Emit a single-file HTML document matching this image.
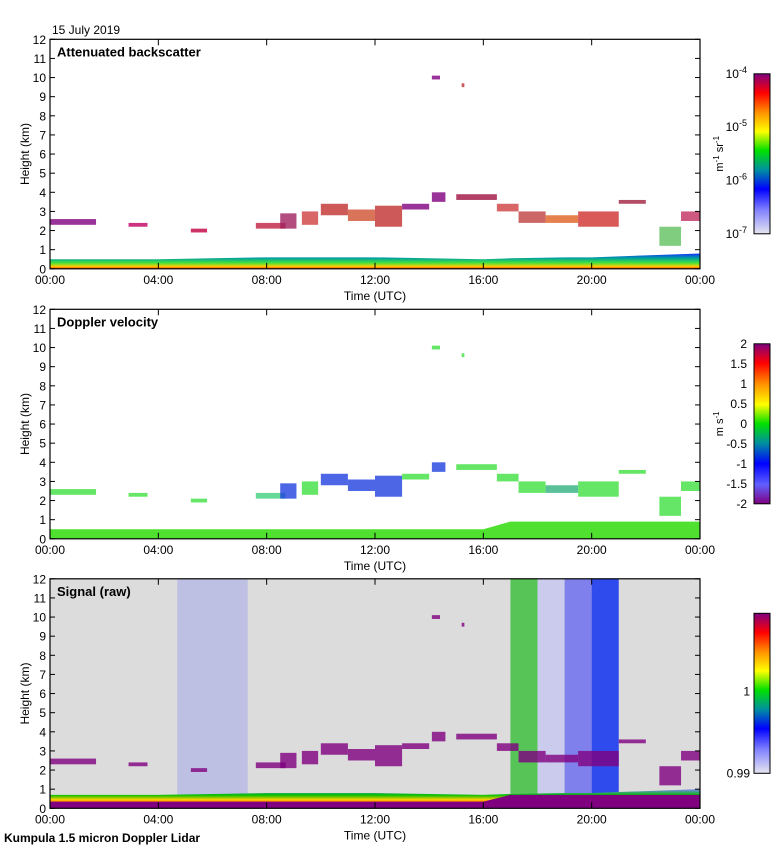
<!DOCTYPE html>
<html><head><meta charset="utf-8">
<style>
body{margin:0;background:#fff;}
svg{display:block;font-family:"Liberation Sans",sans-serif;}
</style></head>
<body>
<svg id="fig" width="780" height="850" viewBox="0 0 780 850" xmlns="http://www.w3.org/2000/svg">
<defs>
<linearGradient id="cb1" x1="0" y1="1" x2="0" y2="0">
<stop offset="0" stop-color="#e6e6f0"/><stop offset="0.15" stop-color="#8080ff"/><stop offset="0.28" stop-color="#0000ff"/><stop offset="0.4" stop-color="#0090a0"/><stop offset="0.52" stop-color="#00e000"/><stop offset="0.64" stop-color="#ffff00"/><stop offset="0.76" stop-color="#ff9000"/><stop offset="0.88" stop-color="#ff0000"/><stop offset="1" stop-color="#800080"/>
</linearGradient>
<linearGradient id="cb2" x1="0" y1="1" x2="0" y2="0">
<stop offset="0" stop-color="#800080"/><stop offset="0.12" stop-color="#6060ff"/><stop offset="0.25" stop-color="#0000ff"/><stop offset="0.38" stop-color="#0090a0"/><stop offset="0.5" stop-color="#00e000"/><stop offset="0.62" stop-color="#ffff00"/><stop offset="0.75" stop-color="#ff9000"/><stop offset="0.88" stop-color="#ff0000"/><stop offset="1" stop-color="#800080"/>
</linearGradient>
<linearGradient id="pbl1" x1="0" y1="0" x2="0" y2="1">
<stop offset="0" stop-color="#1030ff"/><stop offset="0.3" stop-color="#00a0a0"/><stop offset="0.6" stop-color="#40e040"/><stop offset="0.85" stop-color="#ffd000"/><stop offset="1" stop-color="#ff3000"/>
</linearGradient>
<linearGradient id="pbl3" x1="0" y1="0" x2="0" y2="1">
<stop offset="0" stop-color="#8080ff"/><stop offset="0.3" stop-color="#00c000"/><stop offset="0.55" stop-color="#ffd000"/><stop offset="0.75" stop-color="#ff4000"/><stop offset="0.9" stop-color="#800080"/>
</linearGradient>
</defs>
<text x="52" y="34" font-size="12">15 July 2019</text>
<text x="4" y="842" font-size="12" font-weight="bold">Kumpula 1.5 micron Doppler Lidar</text>
<g id="panels"></g>
</svg>
<script>
// time in hours, heights in km
const cloudStart=[0.0,2.9,5.2,7.6,8.5,9.3,10.0,11.0,12.0,13.0,14.1,15.0,16.5,17.3,18.3,19.5,21.0,22.5,23.3,14.1,15.2];
const cloudEnd  =[1.7,3.6,5.8,8.7,9.1,9.9,11.0,12.0,13.0,14.0,14.6,16.5,17.3,18.3,19.5,21.0,22.0,23.3,24.0,14.4,15.3];
const cloudBase =[2.3,2.2,1.9,2.1,2.1,2.3,2.8,2.5,2.2,3.1,3.5,3.6,3.0,2.4,2.4,2.2,3.4,1.2,2.5,9.9,9.5];
const cloudTop  =[2.6,2.4,2.1,2.4,2.9,3.0,3.4,3.1,3.3,3.4,4.0,3.9,3.4,3.0,2.8,3.0,3.6,2.2,3.0,10.1,9.7];
const pblTop=[0.5,0.5,0.55,0.6,0.6,0.6,0.55,0.5,0.55,0.6,0.6,0.7,0.8];
const pblTime=[0,4,6,8,10,12,14,16,17,19,20,22,24];
const noiseStart=[4.7,17.0,18.0,19.0,20.0];
const noiseEnd  =[7.3,18.0,19.0,20.0,21.0];
const noiseColor=["#3040ff","#40c040","#c8c8f0","#7070f0","#1030f0"];
const cloudColor1=["#800080","#c00060","#c00040","#c02040","#a02060","#d04040","#c03030","#d05030","#c03030","#800080","#800080","#a01040","#d04040","#c04040","#e06020","#d03030","#a02040","#60c060","#c03060","#800080","#c03030"];
const cloudColor2=["#40e040","#40e040","#40e040","#40d080","#2040e0","#40e040","#2040e0","#2040e0","#2040e0","#40e040","#2040e0","#40e040","#40e040","#40e040","#30b080","#40e040","#40e040","#40e040","#40e040","#40e040","#40e040"];
const cbTicks2=["2","1.5","1","0.5","0","-0.5","-1","-1.5","-2"];
const xTickLabels=["00:00","04:00","08:00","12:00","16:00","20:00","00:00"];

const NS="http://www.w3.org/2000/svg";
const X0=50,X1=700,W=X1-X0,PH=229.5;
const tops=[39.3,309.3,578.8];
const xs=t=>X0+t/24*W;
function mk(tag,attrs,parent){const e=document.createElementNS(NS,tag);for(const k in attrs)e.setAttribute(k,attrs[k]);parent.appendChild(e);return e;}
const root=document.getElementById('panels');
const titles=["Attenuated backscatter","Doppler velocity","Signal (raw)"];
tops.forEach((top,p)=>{
  const ys=h=>top+PH-h/12*PH;
  const g=mk('g',{},root);
  
  
  const clip='clip'+p;
  const cp=mk('clipPath',{id:clip},g);mk('rect',{x:X0,y:top,width:W,height:PH},cp);
  const plot=mk('g',{'clip-path':'url(#'+clip+')'},g);
  if(p===2){
    const bg=mk('rect',{x:X0,y:top,width:W,height:PH,fill:'#dcdcdc'},plot);
    
    
    noiseStart.forEach((s,i)=>{
      const r=mk('rect',{x:xs(s),y:top,width:xs(noiseEnd[i])-xs(s),height:PH,fill:noiseColor[i],opacity:i===0?0.18:0.85},plot);
      
      
    });
  }
  // boundary layer
  const pt=i=>p===1?(pblTime[i]>=17?0.9:0.5):p===2?pblTop[i]+0.2:pblTop[i];
  let d='M'+xs(pblTime[0])+','+ys(0);
  pblTime.forEach((t,i)=>{d+=' L'+xs(t)+','+ys(pt(i));});
  d+=' L'+xs(24)+','+ys(0)+'Z';
  const pb=mk('path',{d:d,fill:p===0?'url(#pbl1)':p===1?'#50e030':'url(#pbl3)'},plot);
  
  
  if(p===2){
    let d2='M'+xs(0)+','+ys(0);
    pblTime.forEach((t,i)=>{d2+=' L'+xs(t)+','+ys(t>=17?0.7:0.35);});
    d2+=' L'+xs(24)+','+ys(0)+'Z';
    const bot=mk('path',{d:d2,fill:'#800080'},plot);
    
    }
  cloudStart.forEach((s,i)=>{
    const col=p===0?cloudColor1[i]:p===1?cloudColor2[i]:'#800080';
    const r=mk('rect',{x:xs(s),y:ys(cloudTop[i]),width:xs(cloudEnd[i])-xs(s),height:ys(cloudBase[i])-ys(cloudTop[i]),fill:col,opacity:0.8},plot);
    
    
  });
  // frame
  mk('rect',{x:X0,y:top,width:W,height:PH,fill:'none',stroke:'#000','stroke-width':1.2},g);
  for(let h=0;h<=12;h++){
    const y=ys(h);
    mk('line',{x1:X0,x2:X0+5,y1:y,y2:y,stroke:'#000'},g);
    mk('line',{x1:X1,x2:X1-5,y1:y,y2:y,stroke:'#000'},g);
    const t=mk('text',{x:X0-4,y:y+4.5,'font-size':12,'text-anchor':'end'},g);t.textContent=h;
    
    
  }
  for(let i=0;i<=6;i++){
    const x=xs(i*4);
    mk('line',{x1:x,x2:x,y1:top,y2:top+6,stroke:'#000'},g);
    mk('line',{x1:x,x2:x,y1:top+PH,y2:top+PH-6,stroke:'#000'},g);
    const t=mk('text',{x:x,y:top+PH+15,'font-size':12,'text-anchor':'middle'},g);t.textContent=xTickLabels[i];
    
    
  }
  const xt=mk('text',{x:375,y:top+PH+31,'font-size':12,'text-anchor':'middle'},g);xt.textContent='Time (UTC)';
  
  
  const yt=mk('text',{x:0,y:0,'font-size':12,'text-anchor':'middle',transform:'translate(29,'+(top+PH/2)+') rotate(-90)'},g);yt.textContent='Height (km)';
  
  
  const tt=mk('text',{x:57,y:top+17,'font-size':13,'font-weight':'bold'},g);tt.textContent=titles[p];
  
  
  const cbTop=top+34.5,cbH=160;
  const cb=mk('rect',{x:754,y:cbTop,width:16,height:cbH,fill:p===1?'url(#cb2)':'url(#cb1)',stroke:'#000'},g);
  
  
  if(p===0){
    [-4,-5,-6,-7].forEach((e,i)=>{
      const y=cbTop+i*cbH/3;
      const t=mk('text',{x:747,y:y+4,'font-size':12,'text-anchor':'end'},g);
      t.innerHTML='10<tspan dy="-5" font-size="9">'+e+'</tspan>';
      
      
    });
    const u=mk('text',{'font-size':11,'text-anchor':'middle',transform:'translate(723,'+(cbTop+80)+') rotate(-90)'},g);
    u.innerHTML='m<tspan dy="-4" font-size="8">-1</tspan><tspan dy="4"> sr</tspan><tspan dy="-4" font-size="8">-1</tspan>';
    
    
  } else if(p===1){
    cbTicks2.forEach((v,i)=>{
      const y=cbTop+i*cbH/8;
      const t=mk('text',{x:747,y:y+4,'font-size':12,'text-anchor':'end'},g);t.textContent=v;
      
      
    });
    const u=mk('text',{'font-size':11,'text-anchor':'middle',transform:'translate(723,'+(cbTop+80)+') rotate(-90)'},g);
    u.innerHTML='m s<tspan dy="-4" font-size="8">-1</tspan>';
    
    
  } else {
    [["1",cbTop+78],["0.99",cbTop+cbH]].forEach(([v,y])=>{
      const t=mk('text',{x:750,y:y+4,'font-size':12,'text-anchor':'end'},g);t.textContent=v;
      
      
    });
  }
});
</script>
</body></html>
